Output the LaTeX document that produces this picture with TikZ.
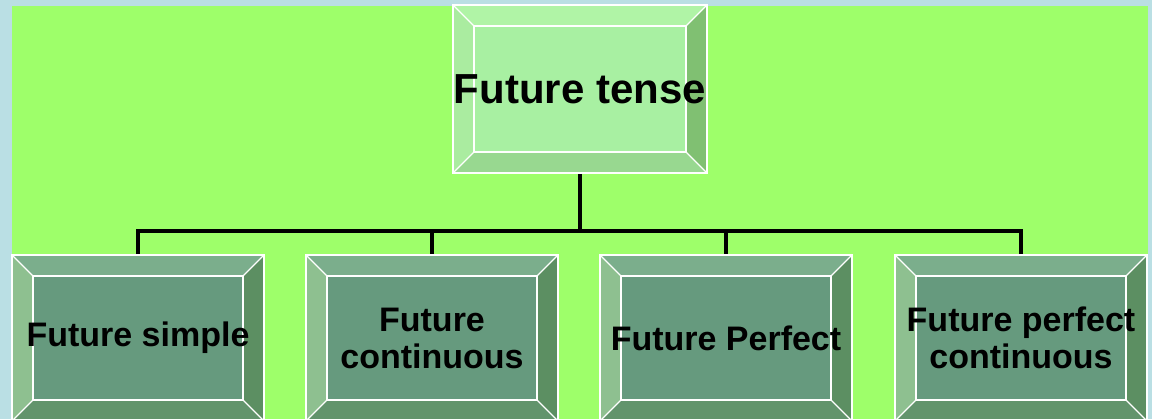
\documentclass[tikz,border=0pt]{standalone}
\usepackage{fontspec}
\setmainfont{Liberation Sans}
\usetikzlibrary{calc}
\definecolor{outerbg}{RGB}{186,223,228}
\definecolor{greenbg}{RGB}{158,255,106}
\definecolor{tC}{RGB}{168,240,162}
\definecolor{tT}{RGB}{176,244,166}
\definecolor{tL}{RGB}{170,236,160}
\definecolor{tR}{RGB}{128,192,114}
\definecolor{tB}{RGB}{152,216,144}
\definecolor{bC}{RGB}{102,154,126}
\definecolor{bT}{RGB}{123,174,140}
\definecolor{bL}{RGB}{142,192,144}
\definecolor{bR}{RGB}{92,143,98}
\definecolor{bB}{RGB}{98,148,108}
\newlength{\bw}
\setlength{\bw}{21pt}
\newcommand\bvbox[6]{%
  \coordinate (#1-a) at ($(#1.north west)+(\bw,-\bw)$);
  \coordinate (#1-b) at ($(#1.north east)+(-\bw,-\bw)$);
  \coordinate (#1-c) at ($(#1.south east)+(-\bw,\bw)$);
  \coordinate (#1-d) at ($(#1.south west)+(\bw,\bw)$);
  \fill[#2] (#1.north west) -- (#1.north east) -- (#1-b) -- (#1-a) -- cycle;
  \fill[#3] (#1.north west) -- (#1-a) -- (#1-d) -- (#1.south west) -- cycle;
  \fill[#4] (#1.north east) -- (#1.south east) -- (#1-c) -- (#1-b) -- cycle;
  \fill[#5] (#1.south west) -- (#1-d) -- (#1-c) -- (#1.south east) -- cycle;
  \fill[#6] (#1-a) rectangle (#1-c);
  \draw[bevline] (#1.north west) rectangle (#1.south east);
  \draw[bevline] (#1-a) rectangle (#1-c);
  \draw[bevline] (#1.north west) -- (#1-a);
  \draw[bevline] (#1.north east) -- (#1-b);
  \draw[bevline] (#1.south east) -- (#1-c);
  \draw[bevline] (#1.south west) -- (#1-d);
}
\tikzset{
  topbox/.style={minimum width=254pt, minimum height=168pt, inner sep=0pt, outer sep=0pt},
  subbox/.style={minimum width=252pt, minimum height=166pt, inner sep=0pt, outer sep=0pt},
  bevline/.style={draw=white, line width=1.3pt},
  toplbl/.style={font=\fontsize{42}{46}\selectfont\bfseries, inner sep=0pt, align=center},
  sublbl/.style={font=\fontsize{34}{37}\selectfont\bfseries, inner sep=0pt, align=center},
  conn/.style={draw=black, line width=3.2pt}
}
\begin{document}
\begin{tikzpicture}[x=1pt,y=-1pt]
\useasboundingbox (0,0) rectangle (1152,419);
\fill[outerbg] (0,0) rectangle (1152,419);
\fill[greenbg] (12,6) rectangle (1148,425);
% connectors
\node[topbox] (top) at (580,89) {};
\node[subbox] (s1) at (138,338) {};
\node[subbox] (s2) at (432,338) {};
\node[subbox] (s3) at (726,338) {};
\node[subbox] (s4) at (1021,338) {};
\coordinate (bus) at (580,231);
\draw[conn] (top.south) -- (bus);
\draw[conn] (s1.north) |- (bus) -| (s4.north);
\draw[conn] (s2.north) -- (s2.north |- bus);
\draw[conn] (s3.north) -- (s3.north |- bus);
% boxes
\bvbox{top}{tT}{tL}{tR}{tB}{tC}
\bvbox{s1}{bT}{bL}{bR}{bB}{bC}
\bvbox{s2}{bT}{bL}{bR}{bB}{bC}
\bvbox{s3}{bT}{bL}{bR}{bB}{bC}
\bvbox{s4}{bT}{bL}{bR}{bB}{bC}
% labels
\node[toplbl] (ttop) at (top) {Future tense};
\node[sublbl] (t1) at (s1) {Future simple};
\node[sublbl] (t2) at (s2) {Future\\continuous};
\node[sublbl] (t3) at (s3) {Future Perfect};
\node[sublbl] (t4) at (s4) {Future perfect\\continuous};
\end{tikzpicture}
\end{document}
